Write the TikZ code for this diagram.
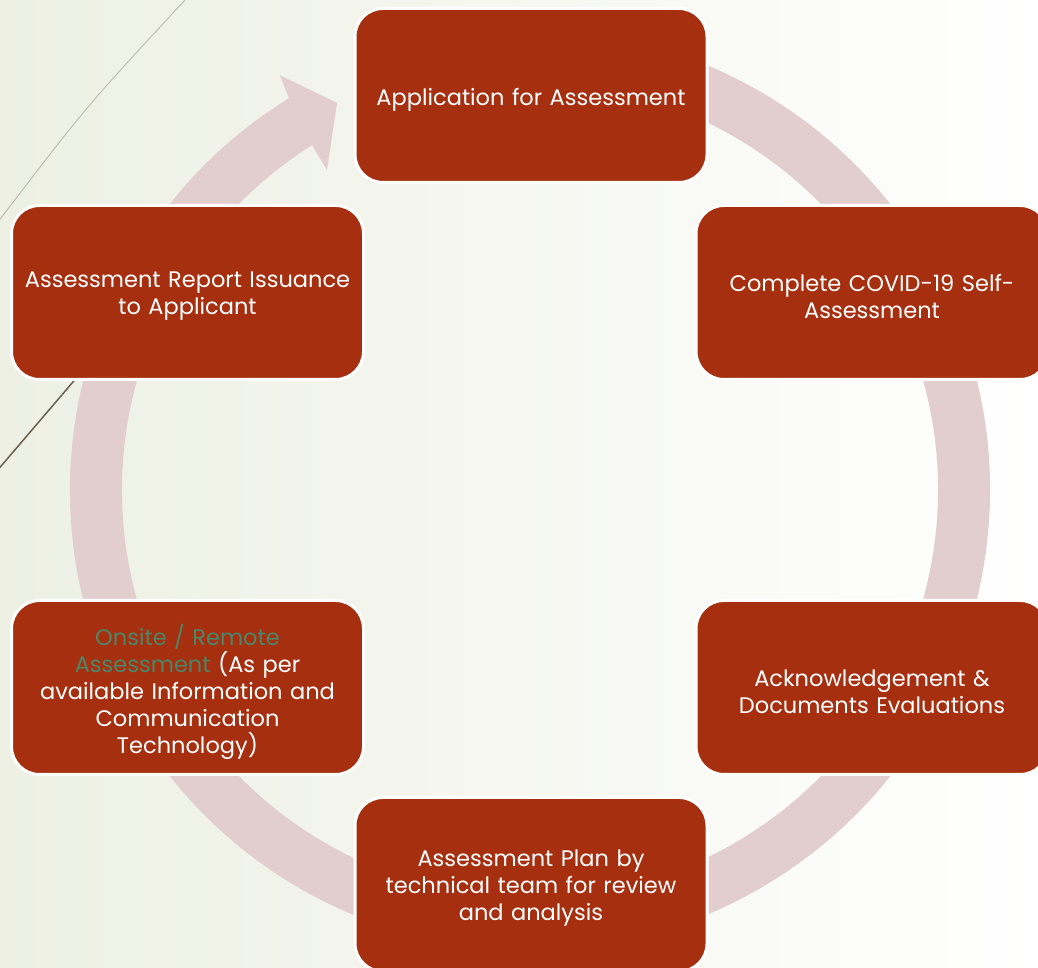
\documentclass[tikz,border=0pt]{standalone}
\usepackage{fontspec}
\setmainfont{Poppins}
\definecolor{boxred}{RGB}{166,47,16}
\definecolor{ringpink}{RGB}{226,206,206}
\definecolor{textgreen}{RGB}{74,134,104}
\definecolor{bgL}{RGB}{237,240,227}
\definecolor{bgM}{RGB}{247,247,242}
\definecolor{thingray}{RGB}{190,192,176}
\definecolor{darkolive}{RGB}{105,100,82}
\begin{document}
\begin{tikzpicture}[x=1pt,y=1pt,
  stepbox/.style={draw=white, line width=3pt, fill=boxred, rounded corners=28pt,
    minimum width=352pt, minimum height=174pt, inner sep=0pt},
  steptext/.style={text width=345pt, align=center, text=white,
    font=\fontsize{22.5}{27}\selectfont, inner sep=0pt, yshift=-4pt},
  ring/.style={fill=ringpink},
  thinline/.style={draw=thingray, line width=1pt},
  darkline/.style={draw=darkolive, line width=1.5pt}]
\useasboundingbox (0,0) rectangle (1038,968);
\clip (0,0) rectangle (1038,968);
\shade[left color=bgL, middle color=bgM, right color=white] (0,0) rectangle (1038,968);
\draw[thinline] (185,968) .. controls (85,860) .. (-2,746);
\draw[darkline] (203,738) -- (-10,489);
\coordinate (C) at (530,478);
\fill[ring] ([shift={(80:460)}]C) arc[start angle=80, end angle=-238.4, radius=460]
  -- ([shift={(121.1:484.5)}]C) -- ([shift={(116.5:432.5)}]C)
  -- ([shift={(122.4:379)}]C) -- ([shift={(122.3:408)}]C)
  arc[start angle=-237.7, end angle=80, radius=408] -- cycle;
\node[stepbox, label={[steptext]center:{Application for Assessment}}] (app) at (531,872.5) {};
\node[stepbox, label={[steptext]center:{Complete COVID-19 Self-\\Assessment}}] (covid) at (872,675.5) {};
\node[stepbox, label={[steptext]center:{Acknowledgement \&\\Documents Evaluations}}] (ack) at (872,280.5) {};
\node[stepbox, label={[steptext]center:{Assessment Plan by\\technical team for review\\and analysis}}] (plan) at (531,83.5) {};
\node[stepbox, label={[steptext]center:{\textcolor{textgreen}{Onsite / Remote}\\\textcolor{textgreen}{Assessment} (As per\\available Information and\\Communication\\Technology)}}] (onsite) at (187.5,280.5) {};
\node[stepbox, label={[steptext]center:{Assessment Report Issuance\\to Applicant}}] (report) at (187.5,675.5) {};
\end{tikzpicture}
\end{document}
